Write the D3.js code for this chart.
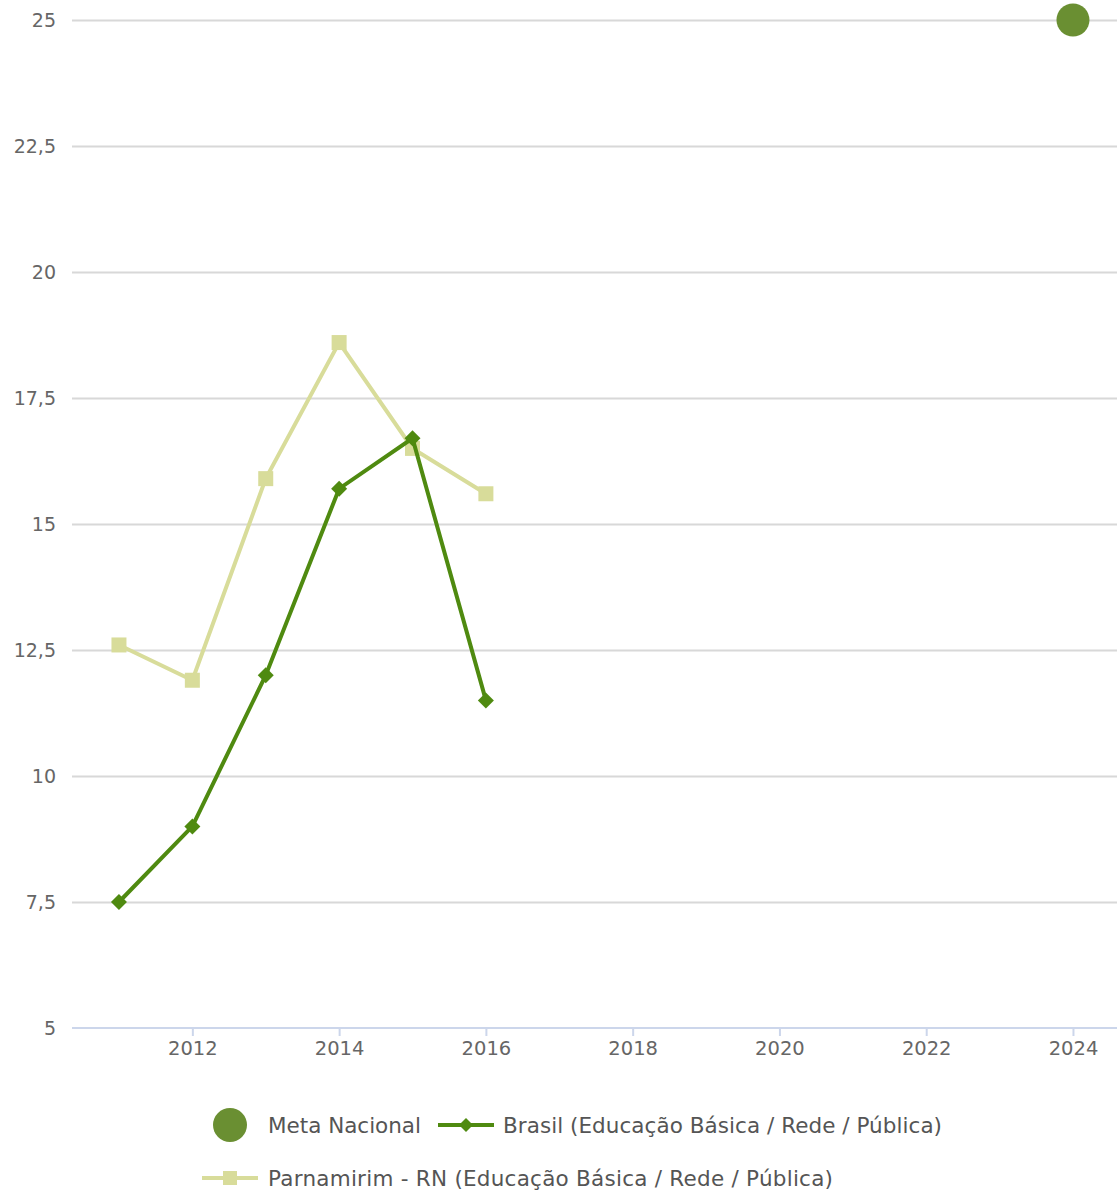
<!DOCTYPE html>
<html><head><meta charset="utf-8">
<script src="https://cdn.jsdelivr.net/npm/d3@7"></script>
<style>body{margin:0;background:#fff}svg{display:block}text{font-family:"DejaVu Sans",Verdana,sans-serif;fill:#666}</style>
</head><body><svg id="c" width="1117" height="1194"></svg>
<script>
const years = [2011, 2012, 2013, 2014, 2015, 2016];
const brasil = [7.5, 9.0, 12.0, 15.7, 16.7, 11.5];
const parnamirim = [12.6, 11.9, 15.9, 18.6, 16.5, 15.6];
const metaYear = [2024];
const metaValue = [25];
const yTicks = [5, 7.5, 10, 12.5, 15, 17.5, 20, 22.5, 25];
const xTicks = [2012, 2014, 2016, 2018, 2020, 2022, 2024];
const seriesNames = ["Meta Nacional", "Brasil (Educação Básica / Rede / Pública)", "Parnamirim - RN (Educação Básica / Rede / Pública)"];
const colors = {meta: "#6a8f32", brasil: "#4f8a10", parn: "#d8dc9a"};

const svg = d3.select("#c");
const x = d3.scaleLinear().domain([2010.36, 2024.6]).range([72, 1117]);
const y = d3.scaleLinear().domain([5, 25]).range([1028, 20]);
const fmt = v => String(v).replace(".", ",");

// grid
const yAxis = d3.axisLeft(y).tickValues(yTicks).tickSize(-(1117 - 72)).tickFormat(fmt);
const gy = svg.append("g").attr("transform", "translate(72,0)").call(yAxis);
gy.select(".domain").remove();
gy.selectAll(".tick line").attr("stroke", "#d8d8d8").attr("stroke-width", 2);
gy.selectAll(".tick").filter(d => d === 5).select("line").remove();
gy.selectAll(".tick text").attr("x", -16).attr("font-size", 19).style("fill", "#666");

const xAxis = d3.axisBottom(x).tickValues(xTicks).tickSize(8).tickFormat(d3.format("d"));
const gx = svg.append("g").attr("transform", "translate(0,1028)").call(xAxis);
gx.select(".domain").attr("stroke", "#ccd6eb").attr("stroke-width", 2).attr("d", "M72,0H1117");
gx.selectAll(".tick line").attr("stroke", "#ccd6eb").attr("stroke-width", 2);
gx.selectAll(".tick text").attr("y", 13).attr("dy", "0.71em").attr("font-size", 19.5).style("fill", "#666");

const line = d3.line().x(d => x(d[0])).y(d => y(d[1]));
const pd = years.map((yr, i) => [yr, parnamirim[i]]);
const bd = years.map((yr, i) => [yr, brasil[i]]);

svg.append("path").datum(pd).attr("d", line).attr("fill", "none").attr("stroke", colors.parn).attr("stroke-width", 4);
svg.append("g").selectAll("rect").data(pd).join("rect")
  .attr("x", d => x(d[0]) - 7.5).attr("y", d => y(d[1]) - 7.5).attr("width", 15).attr("height", 15).attr("fill", colors.parn);

svg.append("path").datum(bd).attr("d", line).attr("fill", "none").attr("stroke", colors.brasil).attr("stroke-width", 4);
svg.append("g").selectAll("path").data(bd).join("path")
  .attr("d", d => { const cx = x(d[0]), cy = y(d[1]), r = 8; return `M${cx},${cy - r}L${cx + r},${cy}L${cx},${cy + r}L${cx - r},${cy}Z`; })
  .attr("fill", colors.brasil);

svg.append("g").selectAll("circle").data(metaYear.map((yr, i) => [yr, metaValue[i]])).join("circle")
  .attr("cx", d => x(d[0])).attr("cy", d => y(d[1])).attr("r", 16.5).attr("fill", colors.meta);

// legend
const lg = svg.append("g");
const lfs = 21.5;
lg.append("circle").attr("cx", 230).attr("cy", 1125).attr("r", 17).attr("fill", colors.meta);
lg.append("text").attr("x", 268).attr("y", 1125).attr("dy", "0.35em").attr("font-size", lfs).attr("textLength", 153).style("fill", "#555").text(seriesNames[0]);
lg.append("line").attr("x1", 438).attr("x2", 494).attr("y1", 1125).attr("y2", 1125).attr("stroke", colors.brasil).attr("stroke-width", 4);
lg.append("path").attr("d", "M466,1118L473,1125L466,1132L459,1125Z").attr("fill", colors.brasil);
lg.append("text").attr("x", 503).attr("y", 1125).attr("dy", "0.35em").attr("font-size", lfs).attr("textLength", 439).style("fill", "#555").text(seriesNames[1]);
lg.append("line").attr("x1", 202).attr("x2", 258).attr("y1", 1178).attr("y2", 1178).attr("stroke", colors.parn).attr("stroke-width", 4);
lg.append("rect").attr("x", 223).attr("y", 1171).attr("width", 14).attr("height", 14).attr("fill", colors.parn);
lg.append("text").attr("x", 268).attr("y", 1178).attr("dy", "0.35em").attr("font-size", lfs).attr("textLength", 565).style("fill", "#555").text(seriesNames[2]);
</script></body></html>
